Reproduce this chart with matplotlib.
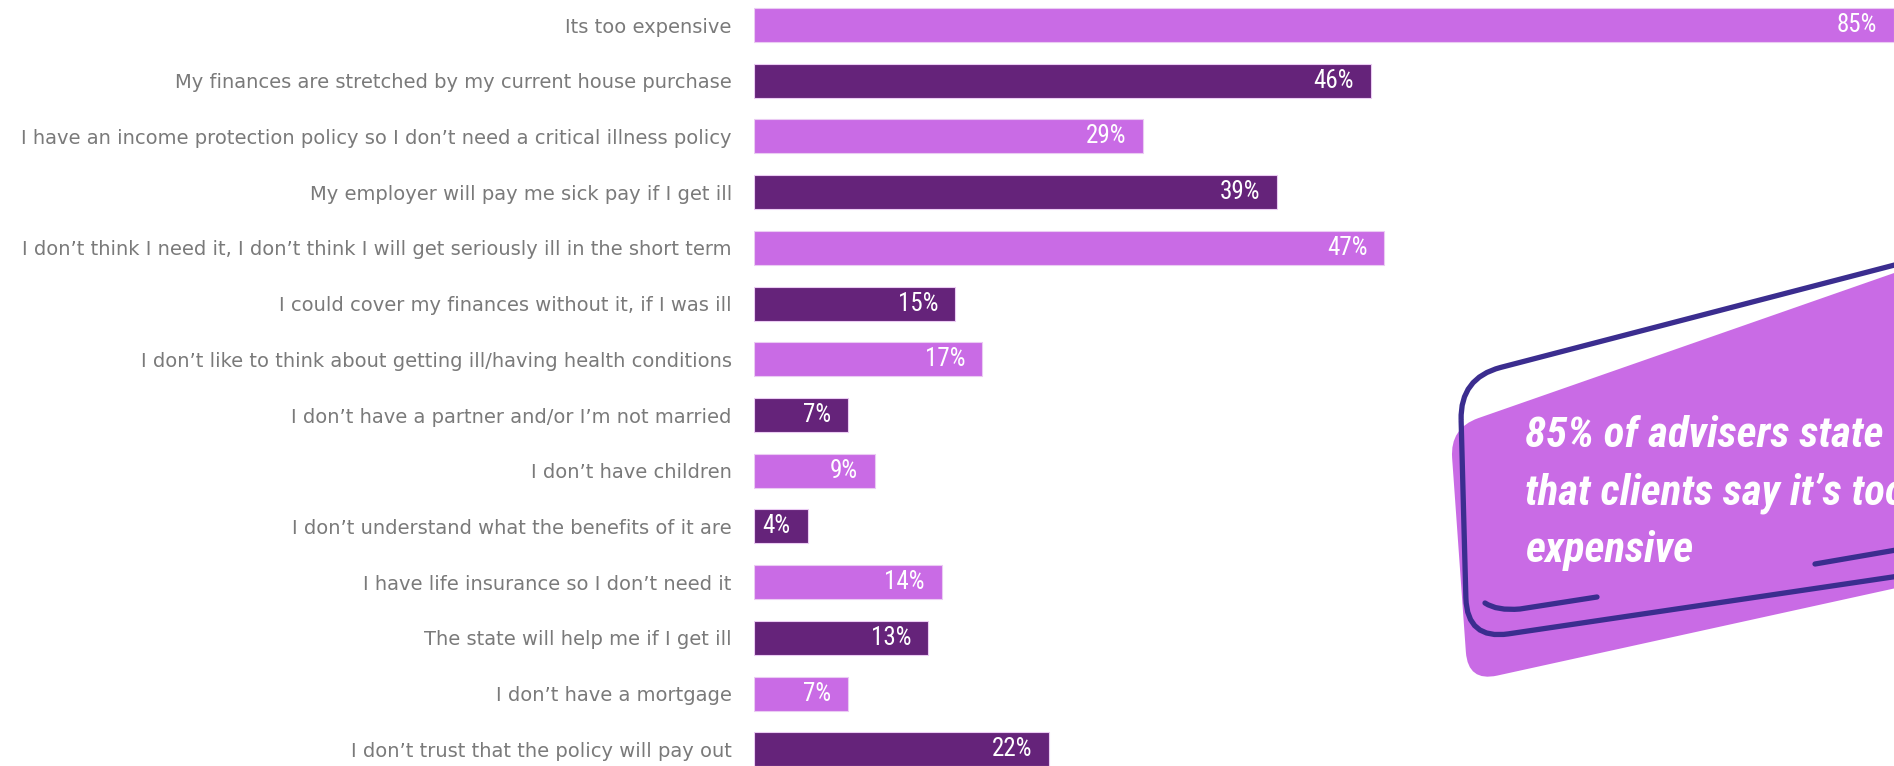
import numpy as np
import matplotlib.pyplot as plt
from matplotlib.path import Path
from matplotlib.patches import PathPatch

reasons = [
    "Its too expensive",
    "My finances are stretched by my current house purchase",
    "I have an income protection policy so I don\u2019t need a critical illness policy",
    "My employer will pay me sick pay if I get ill",
    "I don\u2019t think I need it, I don\u2019t think I will get seriously ill in the short term",
    "I could cover my finances without it, if I was ill",
    "I don\u2019t like to think about getting ill/having health conditions",
    "I don\u2019t have a partner and/or I\u2019m not married",
    "I don\u2019t have children",
    "I don\u2019t understand what the benefits of it are",
    "I have life insurance so I don\u2019t need it",
    "The state will help me if I get ill",
    "I don\u2019t have a mortgage",
    "I don\u2019t trust that the policy will pay out",
]
shares = [85, 46, 29, 39, 47, 15, 17, 7, 9, 4, 14, 13, 7, 22]
callout_lines = ["85% of advisers state", "that clients say it\u2019s too", "expensive"]

LIGHT = "#C96BE5"
DARK = "#65237A"
NAVY = "#3B2D8F"

W, H = 1894, 766
fig = plt.figure(figsize=(W / 100, H / 100), dpi=100)

# bar chart area starts right of the labels and runs off the right edge
ax = fig.add_axes([754 / W, 0, 1 - 754 / W, 1])
y = np.arange(len(reasons))
colours = [LIGHT if i % 2 == 0 else DARK for i in y]
ax.barh(y, shares, height=0.61, color=colours, edgecolor="#EBCBF3", linewidth=0.8)
ax.set_xlim(0, 85)
ax.set_ylim(13.3, -0.45)
ax.set_yticks(y)
ax.set_yticklabels(reasons, fontsize=14, color="#7A7A7A",
                   family=["DejaVu Sans"], fontweight="normal")
ax.tick_params(axis="y", length=0, pad=16)
ax.tick_params(axis="x", bottom=False, labelbottom=False)
for s in ax.spines.values():
    s.set_visible(False)

for yi, v in zip(y, shares):
    ax.annotate(f"{v}%", (v, yi), xytext=(-12.2, 0), textcoords="offset points",
                ha="right", va="center", color="white", fontsize=18,
                family=["Roboto Condensed", "Liberation Sans Narrow", "Roboto"])


def rounded_path(corners, r):
    pts = np.asarray(corners, float)
    verts, codes = [], []
    for i in range(len(pts)):
        p, prev, nxt = pts[i], pts[i - 1], pts[(i + 1) % len(pts)]
        a = p + (prev - p) / np.linalg.norm(prev - p) * r
        b = p + (nxt - p) / np.linalg.norm(nxt - p) * r
        verts.append(a)
        codes.append(Path.MOVETO if i == 0 else Path.LINETO)
        verts += [p, b]
        codes += [Path.CURVE3, Path.CURVE3]
    verts.append(verts[0])
    codes.append(Path.CLOSEPOLY)
    return Path(verts, codes)


# callout overlay in pixel coordinates
ov = fig.add_axes([0, 0, 1, 1], zorder=5)
ov.set_xlim(0, W)
ov.set_ylim(H, 0)
ov.axis("off")

fill = rounded_path([(1450, 428), (1960, 250), (1960, 574), (1468, 682)], 30)
ov.add_patch(PathPatch(fill, facecolor=LIGHT, edgecolor="none"))

frame = rounded_path([(1460, 378), (1960, 248), (1960, 567), (1467, 640)], 42)
ov.add_patch(PathPatch(frame, facecolor="none", edgecolor=NAVY, linewidth=3.8))

stroke = Path([(1485, 603), (1497, 611), (1520, 609), (1597, 597)],
              [Path.MOVETO, Path.CURVE3, Path.CURVE3, Path.LINETO])
ov.add_patch(PathPatch(stroke, facecolor="none", edgecolor=NAVY, linewidth=3.8,
                       capstyle="round"))
ov.plot([1815, 1960], [564, 539], color=NAVY, linewidth=3.8, solid_capstyle="round")

for line, base in zip(callout_lines, [447, 505, 562]):
    ov.text(1525, base, line, color="white", fontsize=31, fontweight="heavy",
            fontstyle="italic", va="baseline", ha="left",
            family=["Roboto Condensed", "Liberation Sans Narrow", "Roboto"])

fig.savefig("out.png", dpi=100)
